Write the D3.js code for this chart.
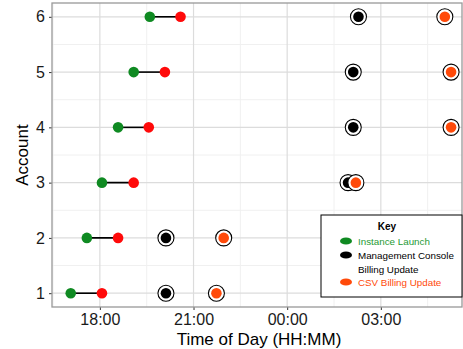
<!DOCTYPE html>
<html>
<head>
<meta charset="utf-8">
<script src="https://cdn.jsdelivr.net/npm/d3@7"></script>
<style>
  body { margin: 0; background: #fff; }
  text { font-family: "Liberation Sans", Arial, sans-serif; }
</style>
</head>
<body>
<div id="chart"></div>
<script>
const accounts = [1, 2, 3, 4, 5, 6];
const launchTimes  = ["17:04", "17:35", "18:04", "18:35", "19:05", "19:36"];
const endTimes     = ["18:04", "18:35", "19:05", "19:34", "20:05", "20:35"];
const consoleTimes = ["20:07", "20:07", "01:57", "02:07", "02:07", "02:17"];
const csvTimes     = ["21:44", "21:58", "02:12", "05:15", "05:15", "05:03"];
const xTickLabels  = ["18:00", "21:00", "00:00", "03:00"];
const legendKeys   = ["Instance Launch", "Management Console|Billing Update", "CSV Billing Update"];

const width = 463, height = 349;
const margin = {top: 3, right: 1, bottom: 42, left: 52};
const pw = width - margin.left - margin.right;
const ph = height - margin.top - margin.bottom;

// times before noon belong to the next day
function toDate(s) {
  const [h, m] = s.split(":").map(Number);
  return new Date(2020, 0, h < 12 ? 2 : 1, h, m);
}

const svg = d3.select("#chart").append("svg")
  .attr("width", width).attr("height", height);
const g = svg.append("g")
  .attr("transform", `translate(${margin.left},${margin.top})`);

const x = d3.scaleTime()
  .domain([toDate("16:28"), toDate("05:36")])
  .range([0, pw]);
const y = d3.scaleLinear()
  .domain([0.75, 6.25])
  .range([ph, 0]);

// grid
const minorX = d3.timeMinute.every(30).range(x.domain()[0], x.domain()[1])
  .filter(d => d.getMinutes() === 30 && d.getHours() % 3 === 1);
g.selectAll(".gx-minor").data(minorX).enter().append("line")
  .attr("x1", d => x(d)).attr("x2", d => x(d)).attr("y1", 0).attr("y2", ph)
  .attr("stroke", "#f0f0f0").attr("stroke-width", 1);
g.selectAll(".gy-minor").data([1.5, 2.5, 3.5, 4.5, 5.5]).enter().append("line")
  .attr("x1", 0).attr("x2", pw).attr("y1", d => y(d)).attr("y2", d => y(d))
  .attr("stroke", "#f0f0f0").attr("stroke-width", 1);
const majorX = xTickLabels.map(toDate);
g.selectAll(".gx").data(majorX).enter().append("line")
  .attr("x1", d => x(d)).attr("x2", d => x(d)).attr("y1", 0).attr("y2", ph)
  .attr("stroke", "#dcdcdc").attr("stroke-width", 1.2);
g.selectAll(".gy").data(accounts).enter().append("line")
  .attr("x1", 0).attr("x2", pw).attr("y1", d => y(d)).attr("y2", d => y(d))
  .attr("stroke", "#dcdcdc").attr("stroke-width", 1.2);

// axes
const xAxis = g.append("g")
  .attr("transform", `translate(0,${ph})`)
  .call(d3.axisBottom(x).tickValues(majorX).tickFormat(d3.timeFormat("%H:%M")).tickSize(3).tickPadding(4));
const yAxis = g.append("g")
  .call(d3.axisLeft(y).tickValues(accounts).tickFormat(d3.format("d")).tickSize(3).tickPadding(4));
[xAxis, yAxis].forEach(a => {
  a.select(".domain").remove();
  a.selectAll(".tick line").attr("stroke", "#333");
  a.selectAll(".tick text").attr("fill", "#1a1a1a").style("font-size", "16px");
});

g.append("rect")
  .attr("width", pw).attr("height", ph)
  .attr("fill", "none").attr("stroke", "#999").attr("stroke-width", 1.3);

// segments launch -> end
accounts.forEach((a, i) => {
  g.append("line")
    .attr("x1", x(toDate(launchTimes[i]))).attr("x2", x(toDate(endTimes[i])))
    .attr("y1", y(a)).attr("y2", y(a))
    .attr("stroke", "#000").attr("stroke-width", 1.6);
});

function dots(times, color, ring) {
  accounts.forEach((a, i) => {
    const cx = x(toDate(times[i])), cy = y(a);
    if (ring) {
      g.append("circle").attr("cx", cx).attr("cy", cy).attr("r", 8)
        .attr("fill", "#fff").attr("stroke", "#000").attr("stroke-width", 1.1);
    }
    g.append("circle").attr("cx", cx).attr("cy", cy).attr("r", 5.3).attr("fill", color);
  });
}
dots(launchTimes, "#0f8a22", false);
dots(endTimes, "#ff0a0a", false);
dots(consoleTimes, "#000", true);
dots(csvTimes, "#ff4a0a", true);

// axis titles
svg.append("text")
  .attr("transform", `translate(28,${margin.top + ph / 2}) rotate(-90)`)
  .attr("text-anchor", "middle").style("font-size", "17px").attr("fill", "#000")
  .text("Account");
svg.append("text")
  .attr("x", margin.left + pw / 2 + 2).attr("y", 345)
  .attr("text-anchor", "middle").style("font-size", "17px").attr("fill", "#000")
  .text("Time of Day (HH:MM)");

// legend
const lg = svg.append("g").attr("transform", "translate(321,215)");
lg.append("rect").attr("width", 141).attr("height", 82)
  .attr("fill", "#fff").attr("stroke", "#000").attr("stroke-width", 1);
lg.append("text").attr("x", 66).attr("y", 15).attr("text-anchor", "middle")
  .style("font-size", "10px").style("font-weight", "bold").text("Key");
const legendColors = ["#0f8a22", "#000", "#ff4a0a"];
const textColors = ["#1e9a34", "#000", "#ff4a0a"];
const rowY = [27, 41, 68];
const lines = [];
legendKeys.forEach((k, i) => {
  lg.append("ellipse").attr("cx", 25).attr("cy", rowY[i] - 1).attr("rx", 6).attr("ry", 3.6)
    .attr("fill", legendColors[i]);
  k.split("|").forEach((line, j) => {
    lines.push(lg.append("text").attr("x", 37).attr("y", rowY[i] + 3 + j * 13.5)
      .style("font-size", "10px").attr("fill", textColors[i]).text(line));
  });
});
// fit "Management Console" to roughly 96px, as in the reference
const w = lines[1].node().getComputedTextLength();
const fs = Math.min(12, 10 * 96 / w);
lines.forEach(t => t.style("font-size", fs + "px"));
</script>
</body>
</html>
